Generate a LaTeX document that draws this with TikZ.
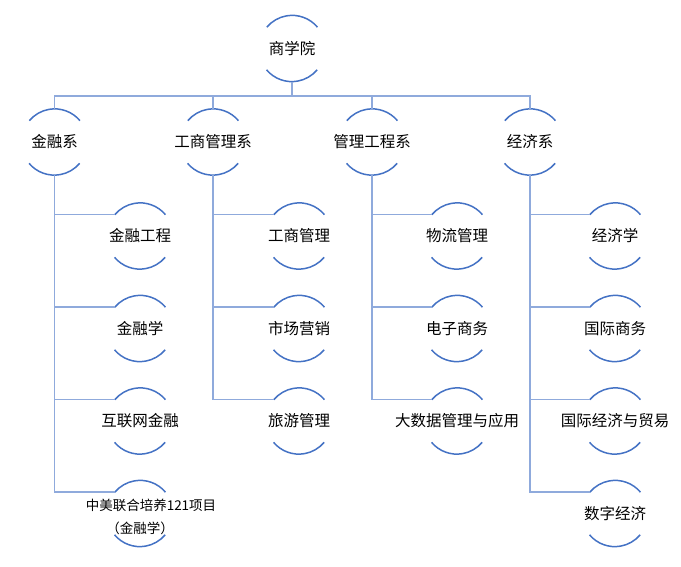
\documentclass[tikz,border=0pt]{standalone}
\usepackage{fontspec}
\setmainfont{Noto Sans CJK SC}
\definecolor{rimblue}{HTML}{4472C4}
\definecolor{linkblue}{HTML}{8FAADC}
\begin{document}
\begin{tikzpicture}[x=1pt,y=1pt,every label/.style={font=\fontsize{15.5}{19}\selectfont,inner sep=0pt},
  unit/.style={circle,inner sep=0pt,minimum size=66pt},
  rim/.style={draw=rimblue,line width=1.5pt},
  link/.style={draw=linkblue,line width=1.5pt}]
  \useasboundingbox (0,0) rectangle (681,-567);
  % root and departments
  \node[unit,label=center:商学院] (school) at (292,-48.5) {};
  \node[unit,label=center:金融系] (fin) at (54.5,-142) {};
  \node[unit,label=center:工商管理系] (bus) at (213,-142) {};
  \node[unit,label=center:管理工程系] (mgt) at (372,-142) {};
  \node[unit,label=center:经济系] (eco) at (530,-142) {};
  % majors
  \node[unit,label=center:金融工程] (fin1) at (140,-236) {};
  \node[unit,label=center:金融学] (fin2) at (140,-328.5) {};
  \node[unit,label=center:互联网金融] (fin3) at (140,-421) {};
  \node[unit,label={[xshift=11pt,yshift=8pt,font=\fontsize{13.5}{16}\selectfont]center:中美联合培养121项目},
    label={[yshift=-15pt,font=\fontsize{13.5}{16}\selectfont]center:（金融学）}] (fin4) at (140,-513.5) {};
  \node[unit,label=center:工商管理] (bus1) at (299,-236) {};
  \node[unit,label=center:市场营销] (bus2) at (299,-328.5) {};
  \node[unit,label=center:旅游管理] (bus3) at (299,-421) {};
  \node[unit,label=center:物流管理] (mgt1) at (457,-236) {};
  \node[unit,label=center:电子商务] (mgt2) at (457,-328.5) {};
  \node[unit,label=center:大数据管理与应用] (mgt3) at (457,-421) {};
  \node[unit,label=center:经济学] (eco1) at (615,-236) {};
  \node[unit,label=center:国际商务] (eco2) at (615,-328.5) {};
  \node[unit,label=center:国际经济与贸易] (eco3) at (615,-421) {};
  \node[unit,label=center:数字经济] (eco4) at (615,-513.5) {};
  % open arcs above and below each text
  \foreach \n in {school,fin,bus,mgt,eco,fin1,fin2,fin3,fin4,bus1,bus2,bus3,mgt1,mgt2,mgt3,eco1,eco2,eco3,eco4} {
    \draw[rim] (\n.40) arc[start angle=40,end angle=140,radius=33pt];
    \draw[rim] (\n.220) arc[start angle=220,end angle=320,radius=33pt];
  }
  % tree lines
  \coordinate (rail) at (292,-96);
  \draw[link] (school.south) -- (rail);
  \draw[link] (fin.north) |- (rail) -| (eco.north);
  \draw[link] (bus.north) -- (bus.north |- rail);
  \draw[link] (mgt.north) -- (mgt.north |- rail);
  \foreach \p/\c in {fin/fin1,fin/fin2,fin/fin3,fin/fin4,bus/bus1,bus/bus2,bus/bus3,mgt/mgt1,mgt/mgt2,mgt/mgt3,eco/eco1,eco/eco2,eco/eco3,eco/eco4}
    \draw[link] (\p.south) |- (\c.140);
\end{tikzpicture}
\end{document}
